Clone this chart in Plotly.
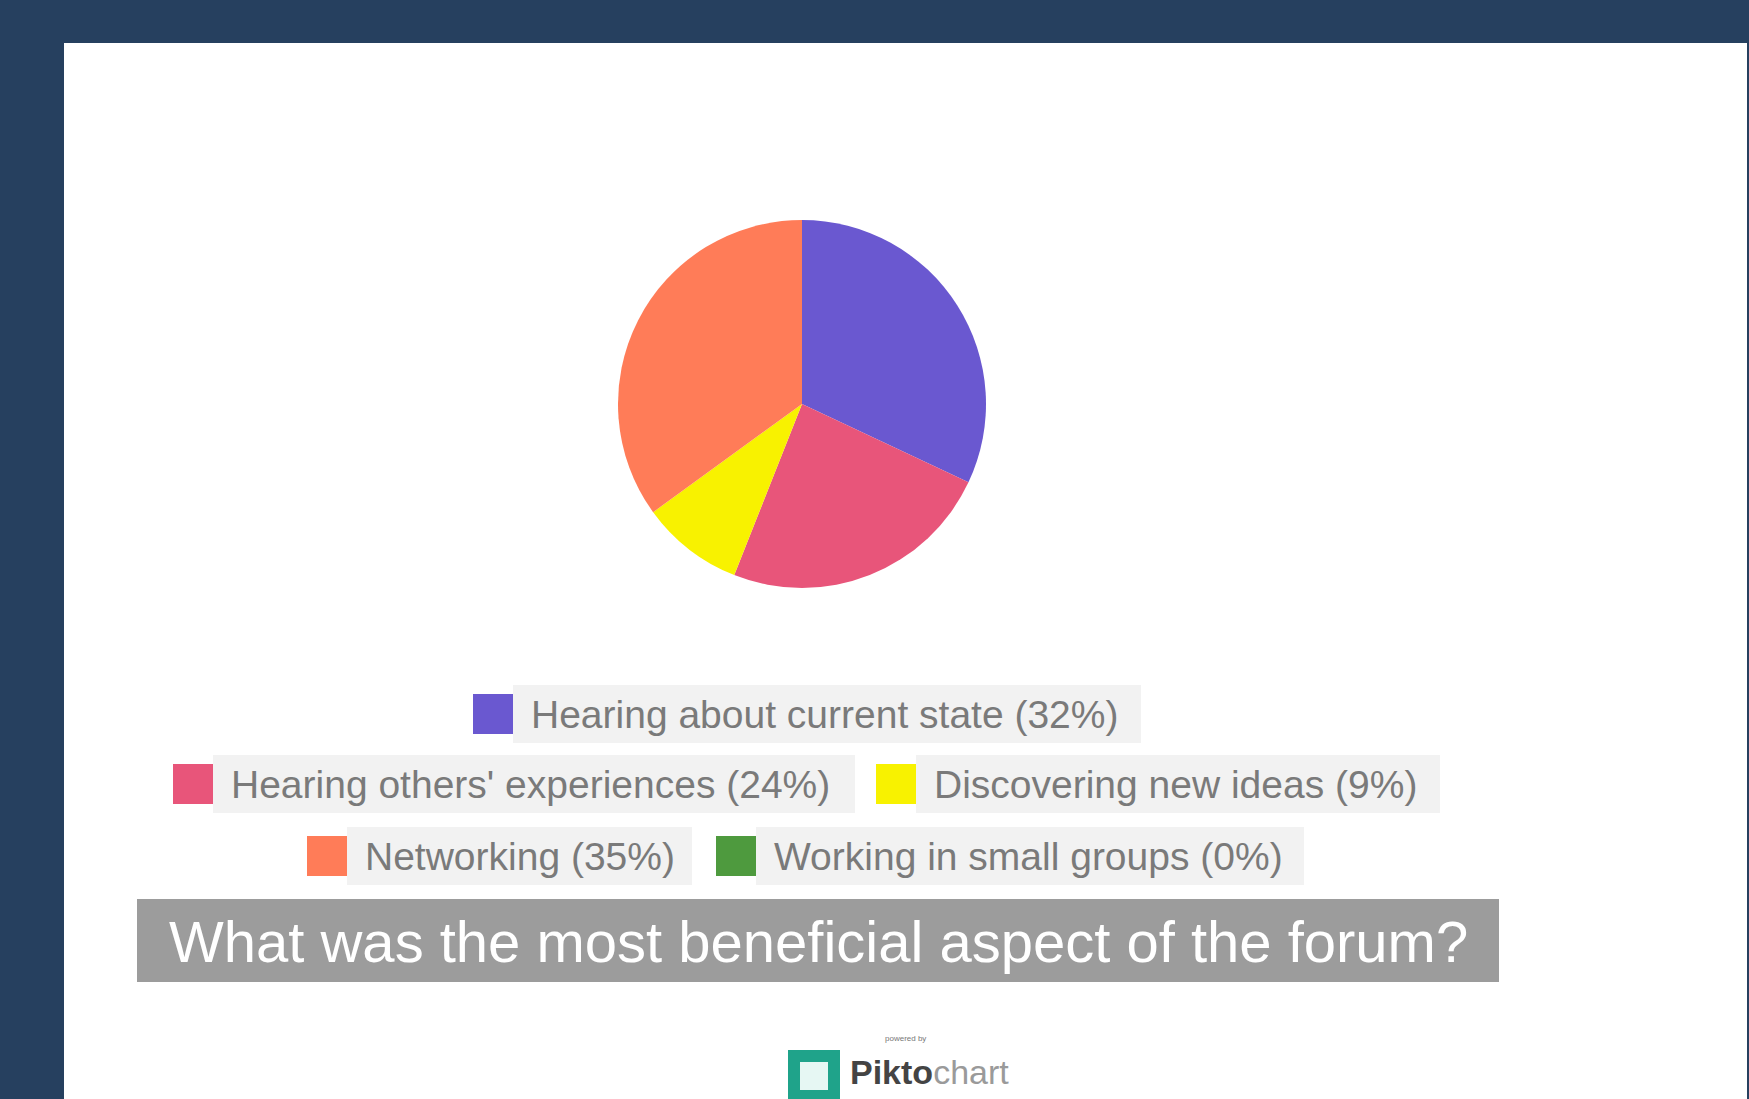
import plotly.graph_objects as go

# ---- data ----
labels = ["Hearing about current state", "Hearing others' experiences",
          "Discovering new ideas", "Networking", "Working in small groups"]
values = [32, 24, 9, 35, 0]
colors = ["#6A58D0", "#E8557A", "#F8F200", "#FF7C58", "#4E9A3E"]
title_text = "What was the most beneficial aspect of the forum?"

W, H = 1749, 1099

def px(x):
    return x / W

def py(y):
    return 1 - y / H

fig = go.Figure()

cx, cy, r = 802, 404, 184
fig.add_trace(go.Pie(
    labels=labels, values=values,
    marker=dict(colors=colors, line=dict(width=0)),
    sort=False, direction="clockwise", rotation=0,
    textinfo="none", showlegend=False, hole=0,
    domain=dict(x=[px(cx - r), px(cx + r)], y=[py(cy + r), py(cy - r)]),
))

shapes = []
annotations = []

# white card
shapes.append(dict(type="rect", xref="paper", yref="paper",
                   x0=px(64), x1=px(1747), y0=py(1099), y1=py(43),
                   fillcolor="white", line=dict(width=0), layer="below"))

# custom legend (layout positions)
legend_rows = [[0], [1, 2], [3, 4]]
row_y = [714, 784, 856]
item_x = {0: (473, 1141), 1: (173, 855), 2: (876, 1440), 3: (307, 692), 4: (716, 1304)}
sw = 40
for ri, row in enumerate(legend_rows):
    yc = row_y[ri]
    for i in row:
        x0, xend = item_x[i]
        shapes.append(dict(type="rect", xref="paper", yref="paper",
                           x0=px(x0 + sw), x1=px(xend), y0=py(yc + 29), y1=py(yc - 29),
                           fillcolor="#F2F2F2", line=dict(width=0)))
        shapes.append(dict(type="rect", xref="paper", yref="paper",
                           x0=px(x0), x1=px(x0 + sw), y0=py(yc + 20), y1=py(yc - 20),
                           fillcolor=colors[i], line=dict(width=0)))
        annotations.append(dict(xref="paper", yref="paper", x=px(x0 + sw + 16), y=py(yc),
                                xanchor="left", yanchor="middle", showarrow=False,
                                text=f"{labels[i]} ({values[i]}%)",
                                font=dict(family="Liberation Sans, Arial",
                                          size=39, color="#7A7A7A")))

# title bar
shapes.append(dict(type="rect", xref="paper", yref="paper",
                   x0=px(137), x1=px(1499), y0=py(982), y1=py(899),
                   fillcolor="#9C9C9C", line=dict(width=0)))
annotations.append(dict(xref="paper", yref="paper", x=px(818), y=py(941),
                        xanchor="center", yanchor="middle", showarrow=False,
                        text=title_text,
                        font=dict(family="Liberation Sans, Arial", size=58, color="white")))

# Piktochart logo
shapes.append(dict(type="rect", xref="paper", yref="paper",
                   x0=px(788), x1=px(840), y0=py(1099), y1=py(1050),
                   fillcolor="#1FA38A", line=dict(width=0)))
shapes.append(dict(type="rect", xref="paper", yref="paper",
                   x0=px(800), x1=px(828), y0=py(1090), y1=py(1062),
                   fillcolor="#E6F7F3", line=dict(width=0)))
annotations.append(dict(xref="paper", yref="paper", x=px(905), y=py(1038),
                        xanchor="center", yanchor="middle", showarrow=False,
                        text="powered by",
                        font=dict(family="Liberation Sans", size=8, color="#777")))
annotations.append(dict(xref="paper", yref="paper", x=px(848), y=py(1072),
                        xanchor="left", yanchor="middle", showarrow=False,
                        text="<b>Pikto</b><span style='color:#9a9a9a'>chart</span>",
                        font=dict(family="Liberation Sans", size=34, color="#444")))

fig.update_layout(
    width=W, height=H,
    margin=dict(l=0, r=0, t=0, b=0),
    paper_bgcolor="#26405F", plot_bgcolor="#26405F",
    shapes=shapes, annotations=annotations,
    showlegend=False,
)

fig.write_html("out.html")
